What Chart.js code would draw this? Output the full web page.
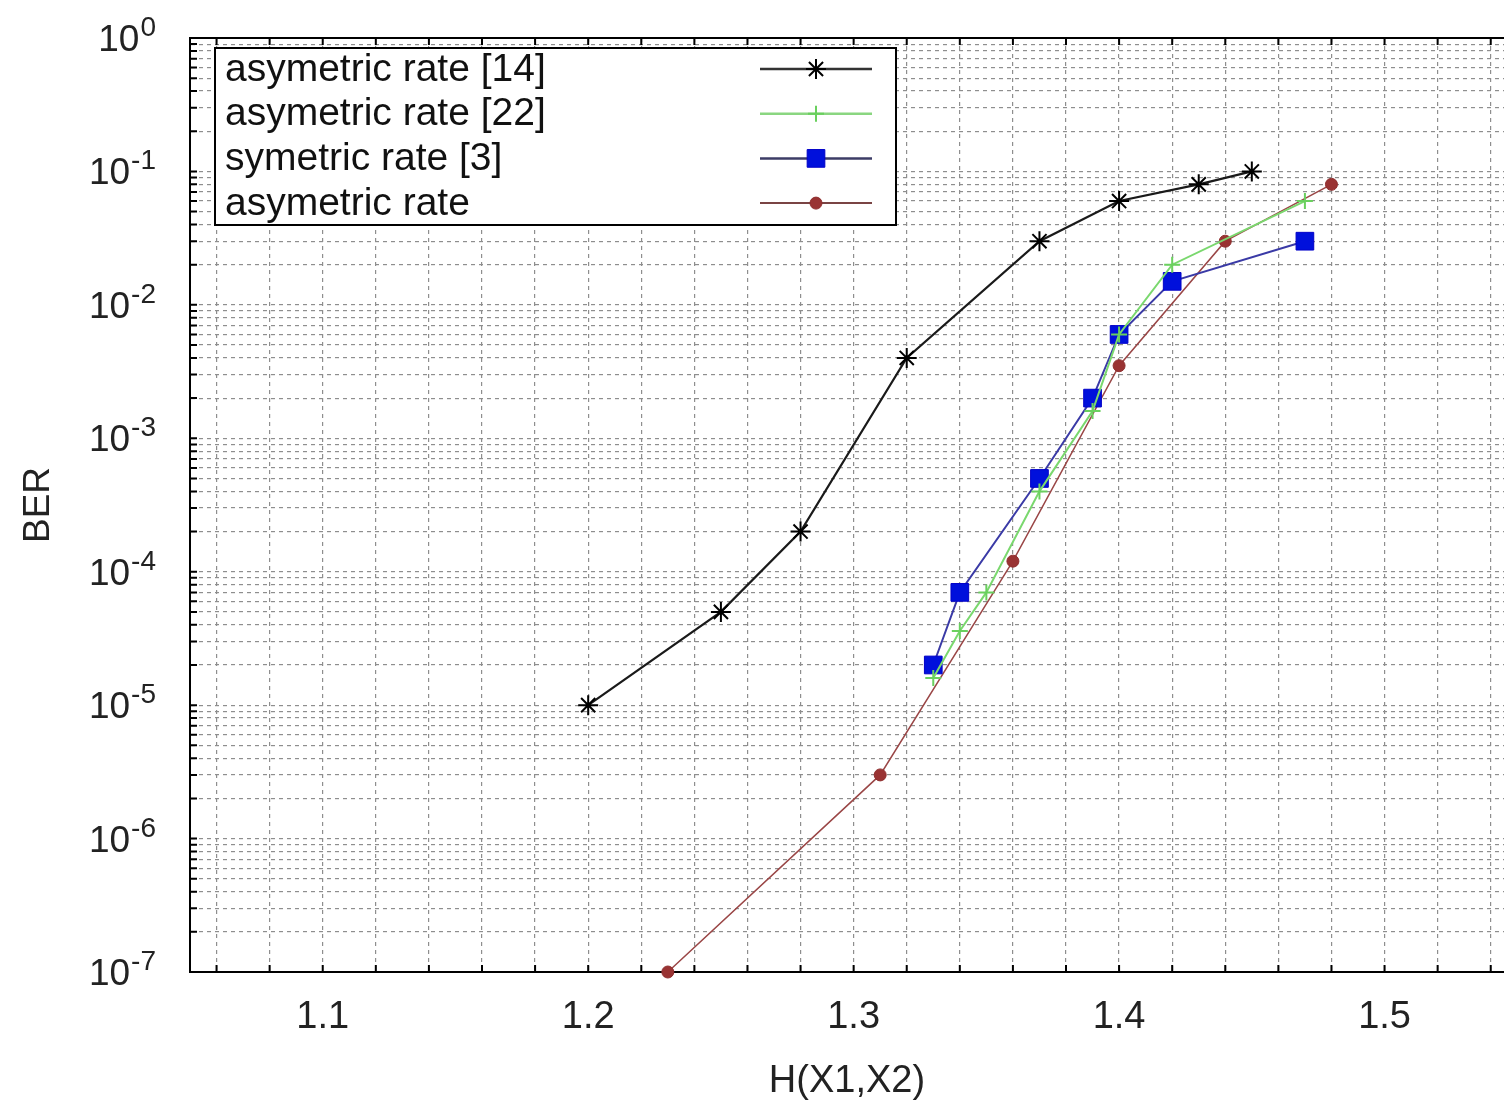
<!DOCTYPE html>
<html>
<head>
<meta charset="utf-8">
<title>BER vs H(X1,X2)</title>
<script src="https://cdn.jsdelivr.net/npm/chart.js@4.4.1/dist/chart.umd.min.js"></script>
<style>
  html, body { margin: 0; padding: 0; background: #fff; overflow: hidden; }
</style>
</head>
<body>
<canvas id="berChart" width="1504" height="1106"></canvas>
<script>
// === DATOS ===
const seriesNames = ['asymetric rate [14]', 'asymetric rate [22]', 'symetric rate [3]', 'asymetric rate'];

const hx14 = [1.20, 1.25, 1.28, 1.32, 1.37, 1.40, 1.43, 1.45];
const ber14 = [1e-5, 5e-5, 2e-4, 4e-3, 3e-2, 6e-2, 8e-2, 1e-1];

const hx22 = [1.33, 1.34, 1.35, 1.37, 1.39, 1.40, 1.42, 1.47];
const ber22 = [1.6e-5, 3.6e-5, 7e-5, 4e-4, 1.6e-3, 6e-3, 2e-2, 6e-2];

const hx3 = [1.33, 1.34, 1.37, 1.39, 1.40, 1.42, 1.47];
const ber3 = [2e-5, 7e-5, 5e-4, 2e-3, 6e-3, 1.5e-2, 3e-2];

const hxAsym = [1.23, 1.31, 1.36, 1.40, 1.44, 1.48];
const berAsym = [1e-7, 3e-6, 1.2e-4, 3.5e-3, 3e-2, 8e-2];

// ticks
const xTickValues = [1.06, 1.08, 1.10, 1.12, 1.14, 1.16, 1.18, 1.20, 1.22, 1.24, 1.26, 1.28, 1.30,
                     1.32, 1.34, 1.36, 1.38, 1.40, 1.42, 1.44, 1.46, 1.48, 1.50, 1.52, 1.54];
const xTickLabels = [1.1, 1.2, 1.3, 1.4, 1.5];
const yExponents = [-7, -6, -5, -4, -3, -2, -1, 0];

const FONT = '"Liberation Sans", Arial, "DejaVu Sans", sans-serif';

function toPoints(xs, ys) {
    return xs.map((x, i) => ({ x: x, y: ys[i] }));
}

// ticks de la escala log: 1..9 por década
const yTickValues = [];
yExponents.forEach(e => {
    for (let m = 1; m <= 9; m++) {
        const v = m * Math.pow(10, e);
        if (v <= 1.0000001) yTickValues.push(v);
    }
});

// === PLUGIN: marco, marcas interiores y etiquetas 10^n ===
const framePlugin = {
    id: 'frame',
    beforeDatasetsDraw(chart) {
        const { ctx, chartArea: a, scales } = chart;
        ctx.save();
        ctx.strokeStyle = '#000';
        ctx.lineWidth = 2;
        ctx.beginPath();
        ctx.moveTo(a.left, a.top);
        ctx.lineTo(a.right, a.top);
        scales.x.ticks.forEach(t => {
            const px = scales.x.getPixelForValue(t.value);
            ctx.moveTo(px, a.bottom); ctx.lineTo(px, a.bottom - 7);
            ctx.moveTo(px, a.top); ctx.lineTo(px, a.top + 7);
        });
        scales.y.ticks.forEach(t => {
            const py = scales.y.getPixelForValue(t.value);
            ctx.moveTo(a.left, py); ctx.lineTo(a.left + 7, py);
        });
        ctx.stroke();

        // etiquetas del eje y con exponente
        ctx.fillStyle = '#222';
        ctx.textBaseline = 'alphabetic';
        ctx.textAlign = 'left';
        const rightEdge = a.left - 34;
        yExponents.forEach(e => {
            const py = scales.y.getPixelForValue(Math.pow(10, e));
            const exp = String(e);
            ctx.font = '28px ' + FONT;
            const wExp = ctx.measureText(exp).width;
            ctx.font = '37px ' + FONT;
            const wBase = ctx.measureText('10').width;
            const xBase = rightEdge - wExp - 1 - wBase;
            ctx.fillText('10', xBase, py + 13);
            ctx.font = '28px ' + FONT;
            ctx.fillText(exp, rightEdge - wExp, py - 2);
        });
        ctx.restore();
    }
};

// === PLUGIN: leyenda dentro del área ===
const legendPlugin = {
    id: 'insideLegend',
    afterDraw(chart) {
        const { ctx, chartArea: a } = chart;
        const boxL = a.left + 25, boxT = a.top + 10, boxW = 681, boxH = 177;
        ctx.save();
        ctx.fillStyle = '#fff';
        ctx.fillRect(boxL, boxT, boxW, boxH);
        ctx.strokeStyle = '#000';
        ctx.lineWidth = 2;
        ctx.strokeRect(boxL, boxT, boxW, boxH);

        ctx.font = '39px ' + FONT;
        ctx.textBaseline = 'middle';
        ctx.textAlign = 'left';
        chart.data.datasets.forEach((ds, i) => {
            const y = boxT + 21 + i * 44.7;
            ctx.fillStyle = '#111';
            ctx.fillText(ds.label, boxL + 10, y + 1);

            ctx.strokeStyle = ds.legendLine;
            ctx.lineWidth = ds.borderWidth + 0.5;
            ctx.beginPath();
            ctx.moveTo(boxL + 545, y);
            ctx.lineTo(boxL + 657, y);
            ctx.stroke();

            ctx.strokeStyle = ds.pointBorderColor;
            ctx.fillStyle = ds.pointBackgroundColor;
            ctx.lineWidth = ds.pointBorderWidth;
            Chart.helpers.drawPoint(ctx, {
                pointStyle: ds.pointStyle, rotation: 0,
                radius: ds.pointRadius, borderWidth: ds.pointBorderWidth
            }, boxL + 601, y);
        });
        ctx.restore();
    }
};

const gridOpts = { color: '#8e8e8e', lineWidth: 1.2, drawTicks: false };

new Chart(document.getElementById('berChart').getContext('2d'), {
    type: 'line',
    data: {
        datasets: [
            {
                label: seriesNames[0],
                data: toPoints(hx14, ber14),
                borderColor: '#1a1a1a', borderWidth: 2.2, legendLine: '#333',
                pointStyle: 'star', pointRadius: 10, pointBorderWidth: 2,
                pointBorderColor: '#000', pointBackgroundColor: '#000',
                tension: 0, clip: false
            },
            {
                label: seriesNames[1],
                data: toPoints(hx22, ber22),
                borderColor: '#7ad86e', borderWidth: 2, legendLine: '#8ad680',
                pointStyle: 'cross', pointRadius: 8, pointBorderWidth: 2,
                pointBorderColor: '#6ad05e', pointBackgroundColor: '#6ad05e',
                tension: 0, clip: false
            },
            {
                label: seriesNames[2],
                data: toPoints(hx3, ber3),
                borderColor: '#3a3aa6', borderWidth: 2, legendLine: '#3c3c66',
                pointStyle: 'rect', pointRadius: 12.5, pointBorderWidth: 1,
                pointBorderColor: '#0000c8', pointBackgroundColor: '#0010dc',
                tension: 0, clip: false
            },
            {
                label: seriesNames[3],
                data: toPoints(hxAsym, berAsym),
                borderColor: '#9a4646', borderWidth: 1.5, legendLine: '#7a4444',
                pointStyle: 'circle', pointRadius: 6, pointBorderWidth: 1,
                pointBorderColor: '#8f2f2f', pointBackgroundColor: '#993333',
                tension: 0, clip: false
            }
        ]
    },
    options: {
        responsive: false,
        animation: false,
        devicePixelRatio: 1,
        layout: { autoPadding: false, padding: { top: 38, right: 0, left: 0, bottom: 0 } },
        plugins: { legend: { display: false }, tooltip: { enabled: false } },
        scales: {
            x: {
                type: 'linear',
                min: 1.05,
                max: 1.545,
                afterBuildTicks: s => { s.ticks = xTickValues.map(v => ({ value: v })); },
                afterFit: s => { s.height = 134; s.paddingLeft = 0; s.paddingRight = 0; },
                grid: gridOpts,
                border: { display: true, color: '#000', width: 2, dash: [4, 4] },
                ticks: {
                    autoSkip: false, maxRotation: 0, padding: 23, color: '#222',
                    font: { family: FONT, size: 38 },
                    callback: v => {
                        const hit = xTickLabels.find(l => Math.abs(l - v) < 1e-9);
                        return hit !== undefined ? hit.toFixed(1) : '';
                    }
                },
                title: {
                    display: true, text: 'H(X1,X2)', color: '#222',
                    font: { family: FONT, size: 38, lineHeight: 1.2 },
                    padding: { top: 0, bottom: 2 }
                }
            },
            y: {
                type: 'logarithmic',
                min: 1e-7,
                max: 1,
                afterBuildTicks: s => { s.ticks = yTickValues.map(v => ({ value: v })); },
                afterFit: s => { s.width = 190; s.paddingTop = 0; s.paddingBottom = 0; },
                grid: gridOpts,
                border: { display: true, color: '#000', width: 2, dash: [4, 4] },
                ticks: {
                    autoSkip: false, padding: 30,
                    callback: () => ''
                },
                title: {
                    display: true, text: 'BER', color: '#222',
                    font: { family: FONT, size: 37, lineHeight: 1.2 },
                    padding: { top: 17, bottom: 0 }
                }
            }
        }
    },
    plugins: [framePlugin, legendPlugin]
});
</script>
</body>
</html>
